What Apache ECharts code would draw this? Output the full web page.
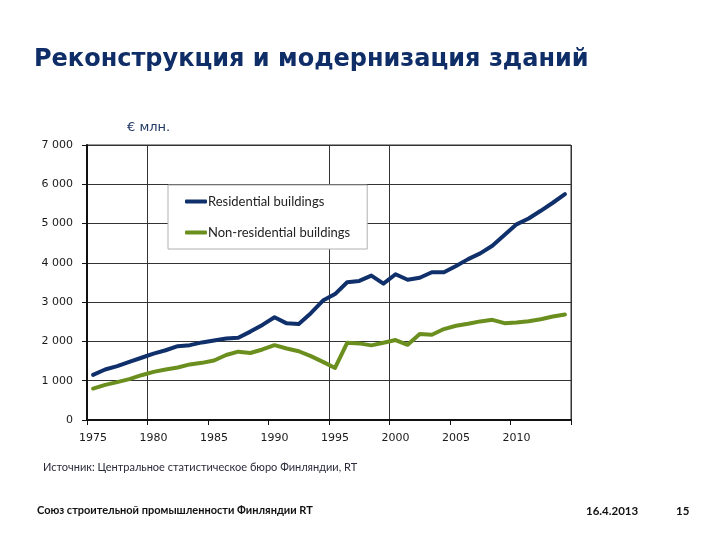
<!DOCTYPE html>
<html>
<head>
<meta charset="utf-8">
<script src="https://cdn.jsdelivr.net/npm/echarts@6/dist/echarts.min.js"></script>
<style>
  html, body { margin: 0; padding: 0; background: #fff; }
  #chart { width: 720px; height: 540px; }
</style>
</head>
<body>
<div id="chart"></div>
<script>
// ---- Data ----
const years = []
for (let y = 1975; y <= 2014; y++) years.push(String(y))

const residential = [
  1150, 1285, 1370, 1480, 1585, 1690, 1775, 1880, 1905, 1975,
  2025, 2075, 2095, 2250, 2420, 2615, 2460, 2445, 2720, 3040,
  3205, 3505, 3540, 3675, 3470, 3710, 3570, 3620, 3760, 3760,
  3920, 4095, 4240, 4435, 4710, 4980, 5130, 5325, 5530, 5750,
]

const nonResidential = [
  800, 895, 965, 1040, 1140, 1225, 1285, 1335, 1415, 1455,
  1515, 1655, 1740, 1705, 1795, 1905, 1820, 1750, 1625, 1480,
  1325, 1965, 1950, 1900, 1965, 2035, 1915, 2190, 2170, 2315,
  2400, 2450, 2510, 2550, 2465, 2480, 2515, 2565, 2635, 2685,
]

const yTickLabels = ['0', '1 000', '2 000', '3 000', '4 000', '5 000', '6 000', '7 000']
const gridYears = ['1980', '1995', '2000']

const BLUE = '#10306b'
const GREEN = '#6b8f1f'
const GRID_COLOR = '#333333'
const TEXT_COLOR = '#1a1a1a'
const TITLE_COLOR = '#0f2d67'

const chart = echarts.init(document.getElementById('chart'), null, { renderer: 'canvas' })

chart.setOption({
  backgroundColor: '#ffffff',
  animation: false,
  title: [
    {
      text: 'Реконструкция и модернизация зданий',
      left: 34,
      top: 48,
      padding: 0,
      textStyle: { fontFamily: 'DejaVu Sans', fontWeight: 'bold', fontSize: 24, color: TITLE_COLOR },
    },
    {
      text: '€ млн.',
      left: 127,
      top: 121,
      padding: 0,
      textStyle: { fontFamily: 'DejaVu Sans', fontWeight: 'normal', fontSize: 13, color: '#1f3864' },
    },
    {
      text: 'Источник: Центральное статистическое бюро Финляндии, RT',
      left: 43,
      top: 462,
      padding: 0,
      textStyle: { fontFamily: 'Lato', fontWeight: 'normal', fontSize: 11, color: '#2b2b3b' },
    },
    {
      text: 'Союз строительной промышленности Финляндии RT',
      left: 37,
      top: 505,
      padding: 0,
      textStyle: { fontFamily: 'Lato', fontWeight: 'bold', fontSize: 11, color: '#111' },
    },
    {
      text: '16.4.2013',
      left: 586,
      top: 505,
      padding: 0,
      textStyle: { fontFamily: 'Lato', fontWeight: 'bold', fontSize: 11.5, color: '#111' },
    },
    {
      text: '15',
      left: 676,
      top: 505,
      padding: 0,
      textStyle: { fontFamily: 'Lato', fontWeight: 'bold', fontSize: 11.5, color: '#111' },
    },
  ],
  legend: {
    orient: 'vertical',
    left: 168,
    top: 185,
    padding: [10, 17, 10, 17],
    itemGap: 18,
    itemWidth: 22,
    itemHeight: 4,
    icon: 'roundRect',
    backgroundColor: '#ffffff',
    borderColor: '#b0b0b0',
    borderWidth: 1,
    textStyle: { fontFamily: 'Lato', fontSize: 13, color: '#222', padding: [0, 0, 0, -4] },
    data: ['Residential buildings', 'Non-residential buildings'],
  },
  grid: {
    left: 87,
    right: 149,
    top: 145,
    bottom: 120,
    show: true,
    borderColor: GRID_COLOR,
    borderWidth: 1,
    backgroundColor: 'transparent',
  },
  xAxis: {
    type: 'category',
    data: years,
    boundaryGap: true,
    axisLine: { show: true, lineStyle: { color: '#111', width: 2 } },
    axisTick: { show: true, interval: 4, length: 5, lineStyle: { color: '#111' } },
    axisLabel: {
      interval: 4,
      margin: 13,
      fontFamily: 'DejaVu Sans',
      fontSize: 11,
      color: TEXT_COLOR,
    },
    splitLine: {
      show: true,
      interval: (idx, val) => gridYears.includes(val),
      lineStyle: { color: GRID_COLOR, width: 1 },
    },
  },
  yAxis: {
    type: 'value',
    min: 0,
    max: 7000,
    interval: 1000,
    axisLine: { show: true, lineStyle: { color: '#111', width: 2 } },
    axisTick: { show: true, length: 5, lineStyle: { color: '#111' } },
    axisLabel: {
      margin: 14,
      fontFamily: 'DejaVu Sans',
      fontSize: 11,
      color: TEXT_COLOR,
      formatter: (v) => yTickLabels[Math.round(v / 1000)],
    },
    splitLine: { show: true, lineStyle: { color: GRID_COLOR, width: 1 } },
  },
  series: [
    {
      name: 'Residential buildings',
      type: 'line',
      data: residential,
      showSymbol: false,
      lineStyle: { width: 4, color: BLUE, cap: 'round', join: 'round' },
      itemStyle: { color: BLUE },
      z: 5,
    },
    {
      name: 'Non-residential buildings',
      type: 'line',
      data: nonResidential,
      showSymbol: false,
      lineStyle: { width: 4, color: GREEN, cap: 'round', join: 'round' },
      itemStyle: { color: GREEN },
      z: 4,
    },
  ],
})
</script>
</body>
</html>
